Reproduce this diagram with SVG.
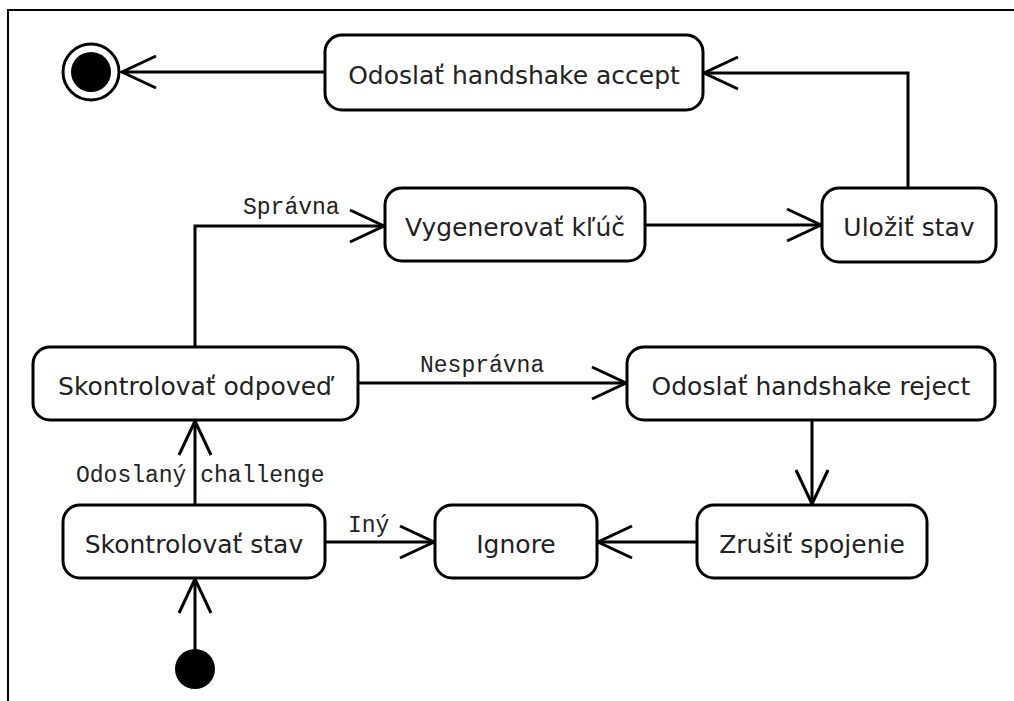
<svg xmlns="http://www.w3.org/2000/svg" width="1014" height="701" viewBox="0 0 1014 701">
<defs>
<style>
.box{fill:#fff;stroke:#000;stroke-width:3}
.t{font-family:"DejaVu Sans",sans-serif;font-size:25px;fill:#222;text-anchor:middle}
.lbl{font-family:"Liberation Mono",monospace;font-size:23px;fill:#222}
.c{fill:none;stroke:#000;stroke-width:3;marker-end:url(#arr)}
</style>
<marker id="arr" markerUnits="userSpaceOnUse" markerWidth="40" markerHeight="40" viewBox="-38 -20 40 40" refX="0" refY="0" orient="auto" overflow="visible">
<path d="M-34,-16 L0,0 L-34,16" fill="none" stroke="#000" stroke-width="3"/>
</marker>
</defs>
<rect x="0" y="0" width="1014" height="701" fill="#fff"/>
<path d="M8,701 L8,10 L1014,10" fill="none" stroke="#000" stroke-width="2"/>
<g id="connectors">
<path class="c" d="M325,72 L122,72"/>
<path class="c" d="M908,188 L908,73 L704,73"/>
<path class="c" d="M645,225 L821,225"/>
<path class="c" d="M195,347 L195,226 L384,226"/>
<path class="c" d="M358,383 L626,383"/>
<path class="c" d="M812,420 L812,504"/>
<path class="c" d="M697,542 L598,542"/>
<path class="c" d="M325,542 L434,542"/>
<path class="c" d="M195,505 L195,421"/>
<path class="c" d="M195,652 L195,579"/>
<text class="lbl" x="243" y="214">Správna</text>
<text class="lbl" x="420" y="372">Nesprávna</text>
<text class="lbl" x="76" y="482">Odoslaný challenge</text>
<text class="lbl" x="348" y="532">Iný</text>
</g>
<g id="final">
<circle cx="91" cy="72" r="28" fill="#fff" stroke="#000" stroke-width="3"/>
<circle cx="91" cy="72" r="20" fill="#000"/>
</g>
<g id="initial">
<circle cx="195" cy="669" r="20" fill="#000"/>
</g>
<g id="accept">
<rect class="box" x="325" y="35" width="378" height="75" rx="17"/>
<text class="t" x="514" y="84">Odoslať handshake accept</text>
</g>
<g id="generate">
<rect class="box" x="385" y="188" width="260" height="73" rx="17"/>
<text class="t" x="515" y="236">Vygenerovať kľúč</text>
</g>
<g id="save">
<rect class="box" x="822" y="188" width="174" height="74" rx="17"/>
<text class="t" x="909" y="236">Uložiť stav</text>
</g>
<g id="checkResponse">
<rect class="box" x="33" y="347" width="325" height="73" rx="17"/>
<text class="t" x="195" y="395">Skontrolovať odpoveď</text>
</g>
<g id="reject">
<rect class="box" x="627" y="347" width="368" height="73" rx="17"/>
<text class="t" x="811" y="395">Odoslať handshake reject</text>
</g>
<g id="checkState">
<rect class="box" x="63" y="505" width="262" height="73" rx="17"/>
<text class="t" x="194" y="553">Skontrolovať stav</text>
</g>
<g id="ignore">
<rect class="box" x="435" y="505" width="162" height="73" rx="17"/>
<text class="t" x="516" y="553">Ignore</text>
</g>
<g id="cancel">
<rect class="box" x="697" y="505" width="230" height="73" rx="17"/>
<text class="t" x="812" y="553">Zrušiť spojenie</text>
</g>
</svg>
